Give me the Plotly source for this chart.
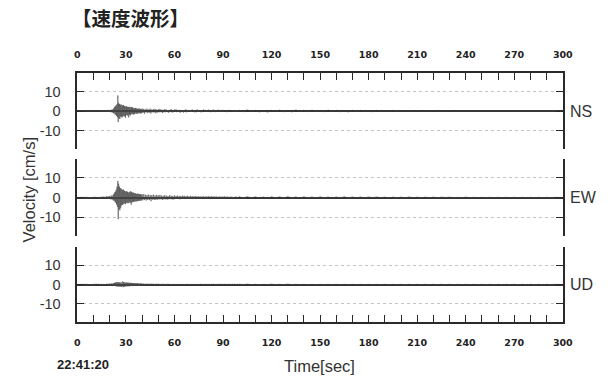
import plotly.graph_objects as go

# ---------------- data (velocity, cm/s) ----------------
# each component is split into segments: (start time [s], sample step [s], values)
seg_starts = [0, 10, 22, 40, 100]
seg_steps = [2, 0.5, 0.25, 0.5, 2.5]

ns_0 = [0.0, 0.1, -0.1, 0.1, -0.1]
ns_a = [0.1, -0.2, 0.2, -0.1, 0.3, -0.3, 0.2, -0.2, 0.4, -0.3, 0.3, -0.4,
        0.5, -0.3, 0.4, -0.5, 0.4, -0.3, 0.6, -0.5, 0.5, -0.6, 0.7, -0.8]
ns_b = [0.9, -1.2, 1.5, -1.0, 2.1, -1.8, 2.4, -2.0, 3.0, -2.6, 3.5, -3.2,
        8.0, -5.7, 4.2, -3.8, 3.6, -4.1, 3.2, -2.9, 3.4, -3.0, 2.8, -3.3,
        2.9, -2.5, 3.1, -2.7, 2.6, -2.8, 2.4, -3.4, 2.3, -2.1, 2.5, -2.2,
        2.0, -2.4, 1.9, -3.3, 2.2, -1.8, 2.0, -2.3, 1.8, -1.6, 2.1, -1.7,
        1.9, -1.5, 1.6, -1.8, 1.4, -1.7, 1.5, -1.3, 1.6, -1.2, 1.3, -1.5,
        1.2, -1.4, 1.1, -1.0, 1.3, -1.1, 1.2, -1.3, 1.0, -1.2, 0.9, -1.1]
ns_c = [1.3, -1.0, 1.1, -1.4, 0.9, -0.8, 1.2, -1.1, 0.8, -0.9,
        1.2, -1.3, 0.8, -0.7, 1.0, -0.8, 1.1, -1.2, 0.7, -0.8,
        0.9, -0.7, 1.1, -0.6, 0.7, -1.0, 0.6, -0.7, 1.0, -0.6,
        0.7, -0.6, 0.5, -0.9, 0.6, -0.5, 1.0, -0.8, 0.5, -0.6,
        0.8, -0.5, 0.9, -0.6, 0.5, -0.4, 0.6, -0.9, 0.5, -0.5,
        0.5, -0.8, 0.4, -0.5, 0.9, -0.7, 0.5, -0.4, 0.5, -0.5,
        0.4, -0.5, 0.8, -0.4, 0.5, -0.7, 0.4, -0.6, 0.8, -0.4,
        0.5, -0.4, 0.4, -0.7, 0.3, -0.4, 0.8, -0.3, 0.4, -0.5,
        0.4, -0.3, 0.7, -0.4, 0.3, -0.6, 0.4, -0.3, 0.7, -0.4,
        0.3, -0.6, 0.3, -0.3, 0.7, -0.3, 0.3, -0.5, 0.3, -0.3,
        0.6, -0.3, 0.3, -0.2, 0.3, -0.6, 0.2, -0.3, 0.6, -0.2,
        0.3, -0.2, 0.5, -0.3, 0.2, -0.5, 0.3, -0.2, 0.5, -0.3]
ns_d = [0.5, -0.4, 0.6, -0.3, 0.4, -0.5, 0.3, -0.6, 0.4, -0.3,
        0.5, -0.4, 0.3, -0.5, 0.6, -0.3, 0.4, -0.4, 0.5, -0.3,
        0.3, -0.4, 0.5, -0.3, 0.4, -0.4, 0.3, -0.5, 0.4, -0.3,
        0.4, -0.3, 0.3, -0.4, 0.4, -0.3, 0.3, -0.3, 0.4, -0.2,
        0.2, -0.3, 0.3, -0.2, 0.2, -0.3, 0.2, -0.2, 0.3, -0.2,
        0.2, -0.2, 0.2, -0.3, 0.2, -0.2, 0.2, -0.2, 0.2, -0.1,
        0.1, -0.2, 0.2, -0.1, 0.1, -0.2, 0.1, -0.1, 0.2, -0.1,
        0.1, -0.1, 0.1, -0.1, 0.1, -0.1, 0.1, -0.1, 0.1, 0.0]

ew_0 = [0.0, 0.1, -0.1, 0.1, -0.1]
ew_a = [0.1, -0.1, 0.2, -0.2, 0.2, -0.3, 0.3, -0.2, 0.3, -0.4, 0.4, -0.3,
        0.5, -0.4, 0.4, -0.5, 0.6, -0.5, 0.7, -0.6, 0.8, -0.9, 1.0, -1.1]
ew_b = [1.2, -1.5, 1.8, -1.6, 2.5, -2.2, 3.0, -2.8, 4.0, -3.6, 5.5, -4.8,
        8.4, -11.0, 7.0, -6.0, 5.5, -6.5, 4.8, -5.2, 4.5, -4.0, 4.2, -3.8,
        3.8, -3.5, 4.0, -3.2, 3.5, -3.0, 3.2, -3.4, 3.0, -2.8, 3.3, -2.6,
        2.8, -3.0, 2.5, -2.7, 2.6, -2.4, 2.9, -2.5, 3.2, -3.6, 2.8, -2.5,
        2.4, -2.2, 2.6, -2.3, 2.2, -2.0, 2.3, -1.9, 2.0, -2.1, 1.8, -1.9,
        1.9, -1.7, 2.0, -1.8, 1.7, -1.6, 1.8, -1.5, 1.6, -1.7, 1.5, -1.4]
ew_c = [1.6, -1.4, 1.7, -1.3, 1.4, -1.5, 1.3, -1.2, 1.5, -1.3,
        1.2, -1.9, 1.3, -1.1, 1.4, -1.3, 1.1, -1.2, 1.3, -1.1,
        1.1, -1.0, 1.3, -0.9, 1.0, -1.2, 0.9, -1.0, 1.2, -0.9,
        0.9, -1.1, 0.8, -0.9, 1.1, -0.8, 0.9, -1.0, 0.8, -1.0,
        1.0, -0.8, 0.8, -0.7, 1.0, -0.8, 0.7, -0.9, 0.8, -0.7,
        0.9, -0.7, 0.9, -0.8, 0.7, -0.6, 0.9, -0.7, 0.6, -0.8,
        0.8, -0.6, 0.7, -0.8, 0.6, -0.6, 0.8, -0.5, 0.6, -0.7,
        0.7, -0.6, 0.5, -0.7, 0.6, -0.5, 0.7, -0.6, 0.5, -0.6,
        0.6, -0.6, 0.7, -0.5, 0.5, -0.4, 0.7, -0.5, 0.5, -0.6,
        0.6, -0.4, 0.5, -0.6, 0.4, -0.5, 0.6, -0.4, 0.4, -0.5,
        0.5, -0.4, 0.6, -0.4, 0.4, -0.3, 0.5, -0.4, 0.3, -0.5,
        0.5, -0.3, 0.3, -0.5, 0.3, -0.3, 0.5, -0.3, 0.3, -0.4]
ew_d = [0.5, -0.4, 0.5, -0.3, 0.4, -0.4, 0.3, -0.5, 0.4, -0.3,
        0.4, -0.4, 0.5, -0.3, 0.3, -0.4, 0.4, -0.3, 0.3, -0.4,
        0.4, -0.3, 0.3, -0.4, 0.3, -0.3, 0.4, -0.3, 0.3, -0.3,
        0.3, -0.3, 0.3, -0.2, 0.3, -0.2, 0.2, -0.3, 0.2, -0.2,
        0.2, -0.2, 0.3, -0.2, 0.2, -0.2, 0.2, -0.2, 0.2, -0.2,
        0.2, -0.1, 0.2, -0.2, 0.1, -0.2, 0.2, -0.1, 0.1, -0.1,
        0.1, -0.1, 0.1, -0.1, 0.1, -0.1, 0.1, -0.1, 0.1, -0.1,
        0.1, -0.1, 0.1, -0.1, 0.1, -0.1, 0.1, -0.1, 0.1, 0.0]

ud_0 = [0.0, 0.1, -0.1, 0.1, -0.1]
ud_a = [0.1, -0.1, 0.1, -0.1, 0.2, -0.1, 0.2, -0.2, 0.2, -0.2, 0.3, -0.2,
        0.3, -0.3, 0.2, -0.3, 0.4, -0.3, 0.4, -0.4, 0.5, -0.4, 0.6, -0.5]
ud_b = [0.6, -0.7, 0.8, -0.6, 0.9, -0.8, 1.0, -0.9, 1.1, -1.0, 1.2, -0.9,
        1.3, -1.1, 1.0, -1.2, 1.1, -1.0, 0.9, -1.1, 1.2, -1.3, 1.0, -0.9,
        1.6, -1.4, 1.3, -1.2, 1.1, -1.2, 1.0, -0.9, 1.0, -0.9, 1.1, -1.0,
        0.9, -0.8, 1.0, -0.9, 0.8, -0.9, 0.9, -0.7, 0.9, -0.7, 0.8, -0.8,
        0.7, -0.8, 0.7, -0.6, 0.8, -0.6, 0.7, -0.7, 0.6, -0.7, 0.6, -0.5,
        0.7, -0.5, 0.6, -0.6, 0.5, -0.6, 0.5, -0.5, 0.6, -0.5, 0.5, -0.4]
ud_c = [0.5, -0.4, 0.5, -0.5, 0.4, -0.5, 0.5, -0.4, 0.4, -0.5,
        0.4, -0.4, 0.5, -0.3, 0.4, -0.4, 0.3, -0.4, 0.4, -0.3,
        0.4, -0.3, 0.3, -0.4, 0.3, -0.3, 0.4, -0.3, 0.3, -0.3,
        0.3, -0.3, 0.4, -0.2, 0.3, -0.3, 0.2, -0.3, 0.3, -0.2,
        0.3, -0.2, 0.2, -0.3, 0.2, -0.2, 0.3, -0.2, 0.2, -0.2,
        0.2, -0.3, 0.2, -0.2, 0.3, -0.2, 0.2, -0.2, 0.2, -0.3,
        0.2, -0.2, 0.3, -0.2, 0.2, -0.2, 0.2, -0.3, 0.2, -0.2,
        0.3, -0.2, 0.2, -0.2, 0.2, -0.2, 0.3, -0.2, 0.2, -0.2,
        0.2, -0.2, 0.2, -0.3, 0.2, -0.2, 0.2, -0.2, 0.2, -0.2,
        0.2, -0.2, 0.3, -0.2, 0.2, -0.1, 0.2, -0.2, 0.2, -0.2,
        0.2, -0.1, 0.2, -0.2, 0.1, -0.2, 0.2, -0.1, 0.2, -0.2,
        0.1, -0.2, 0.2, -0.1, 0.2, -0.1, 0.1, -0.2, 0.1, -0.1]
ud_d = [0.2, -0.1, 0.2, -0.1, 0.1, -0.2, 0.1, -0.1, 0.2, -0.1,
        0.1, -0.1, 0.2, -0.1, 0.1, -0.1, 0.1, -0.2, 0.1, -0.1,
        0.1, -0.1, 0.1, -0.1, 0.1, -0.1, 0.1, -0.1, 0.1, -0.1,
        0.1, -0.1, 0.1, -0.1, 0.1, -0.1, 0.1, -0.1, 0.1, -0.1,
        0.1, -0.1, 0.1, -0.1, 0.1, -0.1, 0.1, -0.1, 0.1, -0.1,
        0.1, -0.1, 0.1, -0.1, 0.1, -0.1, 0.1, -0.1, 0.1, -0.1,
        0.1, -0.1, 0.1, -0.1, 0.1, -0.1, 0.1, -0.1, 0.1, -0.1,
        0.1, -0.1, 0.1, -0.1, 0.1, -0.1, 0.1, -0.1, 0.1, 0.0]

components = ["NS", "EW", "UD"]
series = {
    "NS": [ns_0, ns_a, ns_b, ns_c, ns_d],
    "EW": [ew_0, ew_a, ew_b, ew_c, ew_d],
    "UD": [ud_0, ud_a, ud_b, ud_c, ud_d],
}
x_tick_labels = ["0", "30", "60", "90", "120", "150", "180", "210", "240", "270", "300"]
y_tick_vals = [-10, 0, 10]
y_tick_text = ["-10", "0", "10"]
start_clock = "22:41:20"


def build(segs):
    t, v = [], []
    for s0, ds, vals in zip(seg_starts, seg_steps, segs):
        for i, val in enumerate(vals):
            t.append(s0 + i * ds)
            v.append(val)
    return t, v


# ---------------- figure ----------------
W, H = 610, 377
def px_x(p):
    return p / W
def px_y(p):
    return 1 - p / H

x0, x1 = px_x(76), px_x(572)
domains = {
    "NS": [px_y(149), px_y(73)],
    "EW": [px_y(236), px_y(159)],
    "UD": [px_y(322), px_y(247)],
}
axis_ids = {"NS": ("x", "y"), "EW": ("x2", "y2"), "UD": ("x3", "y3")}

fig = go.Figure()
for c in components:
    t, v = build(series[c])
    xa, ya = axis_ids[c]
    fig.add_trace(go.Scatter(x=t, y=v, xaxis=xa, yaxis=ya, mode="lines",
                             line=dict(color="#4a4a4a", width=0.6),
                             showlegend=False, hoverinfo="skip"))

line_col = "#2a2a2a"
common_x = dict(range=[0, 300], showgrid=False, zeroline=False,
                tickmode="array", tickvals=[int(s) for s in x_tick_labels],
                ticktext=x_tick_labels, ticks="inside", ticklen=7,
                tickwidth=1.2, tickcolor=line_col,
                minor=dict(dtick=10, tick0=0, ticks="inside", ticklen=7,
                           tickwidth=1.2, tickcolor=line_col),
                linecolor=line_col, linewidth=1.6,
                tickfont=dict(family="DejaVu Sans", size=9.5, color="#222", weight="bold"),
                domain=[x0, x1])

layout = dict(
    width=W, height=H, margin=dict(l=0, r=0, t=0, b=0),
    paper_bgcolor="white", plot_bgcolor="white",
    xaxis=dict(**common_x, anchor="y", side="top", showline=True,
               showticklabels=True, ticklabelstandoff=9),
    xaxis2=dict(**common_x, anchor="y2", visible=False),
    xaxis3=dict(**common_x, anchor="y3", side="bottom", showline=True,
                showticklabels=True, ticklabelstandoff=11),
)
for c, key in zip(components, ["yaxis", "yaxis2", "yaxis3"]):
    xa = axis_ids[c][0]
    layout[key] = dict(
        domain=domains[c], anchor=xa, range=[-19.5, 19.5],
        tickmode="array", tickvals=y_tick_vals, ticktext=y_tick_text,
        ticks="inside", ticklen=7, tickwidth=1.2, tickcolor=line_col,
        showline=True, linecolor=line_col, linewidth=1.6, mirror="ticks",
        showgrid=True, gridcolor="#c4c4c4", griddash="dot", gridwidth=1,
        zeroline=True, zerolinecolor="#333333", zerolinewidth=1.8,
        tickfont=dict(family="Liberation Sans", size=14.5, color="#333"),
        ticklabelstandoff=12,
    )

fig.update_layout(**layout)

ann = []
ann.append(dict(text="【速度波形】", x=px_x(68), y=px_y(18), xref="paper", yref="paper",
                xanchor="left", yanchor="middle", showarrow=False,
                font=dict(family="Noto Sans CJK JP", size=19.5, color="#222", weight="bold")))
zero_rows = {"NS": 111, "EW": 197.5, "UD": 284.5}
for c in components:
    ann.append(dict(text=c, x=px_x(577), y=px_y(zero_rows[c]), xref="paper", yref="paper",
                    xanchor="left", yanchor="middle", showarrow=False,
                    font=dict(family="Liberation Sans", size=16, color="#333")))
ann.append(dict(text="Velocity [cm/s]", x=px_x(27), y=px_y(190), xref="paper", yref="paper",
                xanchor="center", yanchor="middle", textangle=-90, showarrow=False,
                font=dict(family="Liberation Sans", size=16.5, color="#333")))
ann.append(dict(text="Time[sec]", x=px_x(323), y=px_y(366), xref="paper", yref="paper",
                xanchor="center", yanchor="middle", showarrow=False,
                font=dict(family="Liberation Sans", size=16.5, color="#333")))
ann.append(dict(text=start_clock, x=px_x(53), y=px_y(364), xref="paper", yref="paper",
                xanchor="left", yanchor="middle", showarrow=False,
                font=dict(family="Liberation Sans", size=13, color="#222", weight="bold")))
fig.update_layout(annotations=ann)

fig.write_html("out.html")
